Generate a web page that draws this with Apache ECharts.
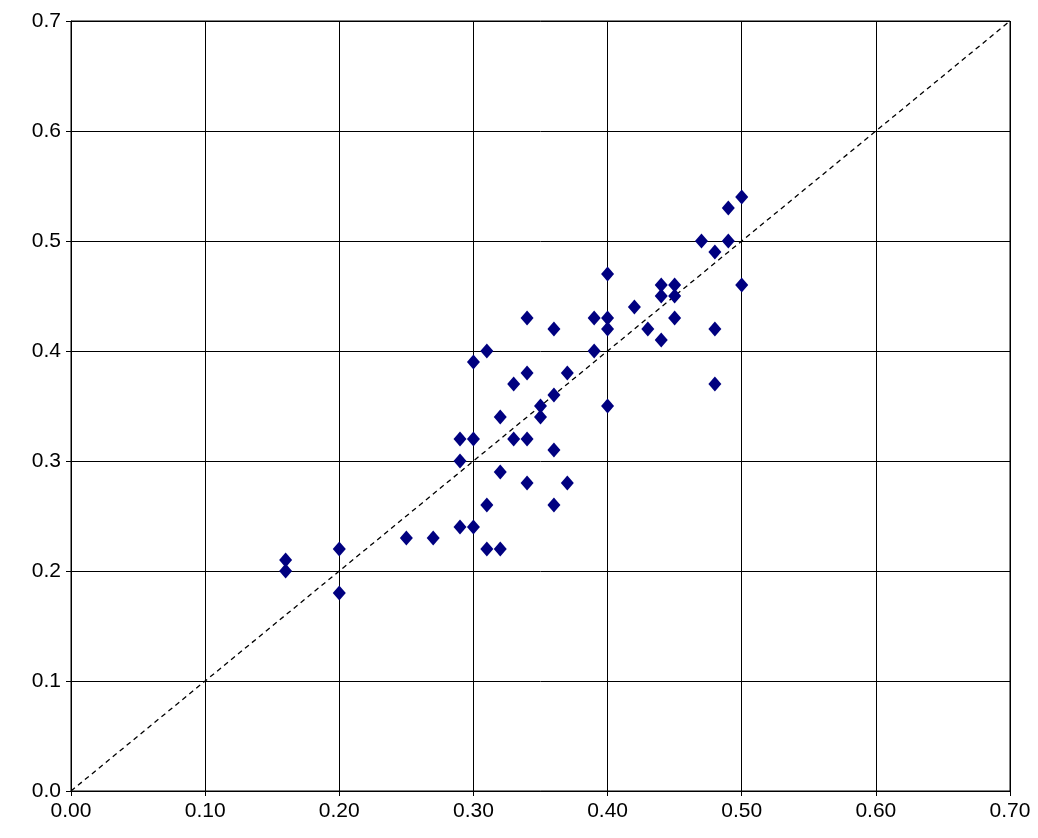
<!DOCTYPE html>
<html><head><meta charset="utf-8">
<script src="https://cdn.jsdelivr.net/npm/echarts@6/dist/echarts.min.js"></script>
<style>html,body{margin:0;background:#fff}#c{width:1038px;height:838px}</style>
</head><body><div id="c"></div>
<script>
const xVals=[0.16,0.16,0.20,0.20,0.25,0.27,0.29,0.29,0.29,0.30,0.30,0.30,0.31,0.31,0.31,0.32,0.32,0.32,0.33,0.33,0.34,0.34,0.34,0.34,0.35,0.35,0.36,0.36,0.36,0.36,0.37,0.37,0.39,0.39,0.40,0.40,0.40,0.40,0.42,0.43,0.44,0.44,0.44,0.45,0.45,0.45,0.47,0.48,0.48,0.48,0.49,0.49,0.50,0.50];
const yVals=[0.21,0.20,0.22,0.18,0.23,0.23,0.32,0.30,0.24,0.39,0.32,0.24,0.40,0.26,0.22,0.34,0.29,0.22,0.37,0.32,0.43,0.38,0.32,0.28,0.35,0.34,0.42,0.36,0.31,0.26,0.38,0.28,0.43,0.40,0.47,0.43,0.42,0.35,0.44,0.42,0.46,0.45,0.41,0.46,0.45,0.43,0.50,0.49,0.42,0.37,0.53,0.50,0.54,0.46];
const lineX=[0,0.7], lineY=[0,0.7];
const ch=echarts.init(document.getElementById('c'));
const lbl={color:'#000',fontSize:21,fontFamily:'Liberation Sans, Arial'};
const ax={type:'value',min:0,max:0.7,interval:0.1,axisLine:{show:true,lineStyle:{color:'#000'}},axisTick:{show:true,inside:false,length:5,lineStyle:{color:'#000'}},splitLine:{show:true,lineStyle:{color:'#000',width:1}}};
ch.setOption({animation:false,
grid:{left:71,right:28,top:21,bottom:47,show:true,borderColor:'#000',borderWidth:1},
xAxis:Object.assign({},ax,{axisLabel:Object.assign({},lbl,{formatter:v=>v.toFixed(2),margin:10})}),
yAxis:Object.assign({},ax,{axisLabel:Object.assign({},lbl,{formatter:v=>v.toFixed(1),margin:10})}),
series:[
{type:'line',data:lineX.map((x,i)=>[x,lineY[i]]),symbol:'none',lineStyle:{color:'#000',type:[5,4],width:1.3},z:1},
{type:'scatter',data:xVals.map((x,i)=>[x,yVals[i]]),symbol:'diamond',symbolSize:[13,15],itemStyle:{color:'#000080',opacity:1},z:3}
]});
</script></body></html>
